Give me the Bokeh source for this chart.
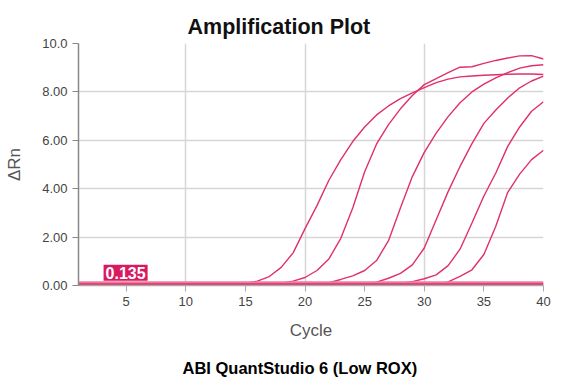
from bokeh.plotting import figure
from bokeh.models import FixedTicker, Label, Span, Title, Range1d
from bokeh.embed import file_html
from bokeh.resources import INLINE

# ---- data -------------------------------------------------------------
cycles = list(range(1, 41))

curve1 = [0.03, 0.03, 0.03, 0.03, 0.03, 0.03, 0.03, 0.03, 0.03, 0.03, 0.03, 0.03,
          0.04, 0.06, 0.10, 0.18, 0.37, 0.75, 1.35, 2.35, 3.30, 4.35, 5.20, 5.95,
          6.55, 7.05, 7.42, 7.72, 7.96, 8.18, 8.38, 8.53, 8.62, 8.66, 8.69, 8.71,
          8.73, 8.74, 8.74, 8.72]
curve2 = [0.03, 0.03, 0.03, 0.03, 0.03, 0.03, 0.03, 0.03, 0.03, 0.03, 0.03, 0.03,
          0.03, 0.03, 0.03, 0.03, 0.05, 0.10, 0.18, 0.33, 0.62, 1.10, 1.95, 3.20,
          4.70, 5.85, 6.65, 7.30, 7.85, 8.30, 8.55, 8.80, 9.02, 9.04, 9.18, 9.30,
          9.40, 9.49, 9.50, 9.36]
curve3 = [0.03, 0.03, 0.03, 0.03, 0.03, 0.03, 0.03, 0.03, 0.03, 0.03, 0.03, 0.03,
          0.03, 0.03, 0.03, 0.03, 0.03, 0.03, 0.03, 0.03, 0.06, 0.12, 0.25, 0.40,
          0.62, 1.03, 1.85, 3.20, 4.50, 5.50, 6.30, 6.98, 7.55, 8.00, 8.32, 8.58,
          8.80, 8.98, 9.08, 9.12]
curve4 = [0.03, 0.03, 0.03, 0.03, 0.03, 0.03, 0.03, 0.03, 0.03, 0.03, 0.03, 0.03,
          0.03, 0.03, 0.03, 0.03, 0.03, 0.03, 0.03, 0.03, 0.03, 0.03, 0.03, 0.05,
          0.08, 0.14, 0.30, 0.50, 0.85, 1.55, 2.72, 3.88, 4.92, 5.86, 6.70, 7.25,
          7.75, 8.17, 8.45, 8.65]
curve5 = [0.03, 0.03, 0.03, 0.03, 0.03, 0.03, 0.03, 0.03, 0.03, 0.03, 0.03, 0.03,
          0.03, 0.03, 0.03, 0.03, 0.03, 0.03, 0.03, 0.03, 0.03, 0.03, 0.03, 0.03,
          0.03, 0.03, 0.05, 0.10, 0.16, 0.28, 0.44, 0.82, 1.50, 2.58, 3.70, 4.65,
          5.75, 6.55, 7.20, 7.59]
curve6 = [0.02, 0.02, 0.02, 0.02, 0.02, 0.02, 0.02, 0.02, 0.02, 0.02, 0.02, 0.02,
          0.02, 0.02, 0.02, 0.02, 0.02, 0.02, 0.02, 0.02, 0.02, 0.02, 0.02, 0.02,
          0.02, 0.02, 0.02, 0.02, 0.02, 0.02, 0.04, 0.15, 0.38, 0.65, 1.28, 2.45,
          3.85, 4.60, 5.20, 5.59]
ntc1 = [0.05, 0.05, 0.05, 0.05, 0.05, 0.05, 0.05, 0.05, 0.05, 0.05, 0.05, 0.05,
        0.05, 0.05, 0.05, 0.05, 0.05, 0.05, 0.05, 0.05, 0.05, 0.05, 0.05, 0.05,
        0.05, 0.05, 0.05, 0.05, 0.05, 0.05, 0.05, 0.05, 0.05, 0.05, 0.05, 0.05,
        0.05, 0.05, 0.05, 0.05]
ntc2 = [0.07, 0.07, 0.07, 0.07, 0.07, 0.07, 0.07, 0.07, 0.07, 0.07, 0.07, 0.07,
        0.07, 0.07, 0.07, 0.07, 0.07, 0.07, 0.07, 0.07, 0.07, 0.07, 0.07, 0.07,
        0.07, 0.07, 0.07, 0.07, 0.07, 0.07, 0.07, 0.07, 0.07, 0.07, 0.07, 0.07,
        0.07, 0.07, 0.07, 0.07]
curves = [curve1, curve2, curve3, curve4, curve5, curve6, ntc1, ntc2]

threshold = 0.135

x_ticks = [5, 10, 15, 20, 25, 30, 35, 40]
x_grid = [10, 20, 30, 40]
y_ticks = [0, 2, 4, 6, 8, 10]
y_tick_labels = ["0.00", "2.00", "4.00", "6.00", "8.00", "10.0"]

title_text = "Amplification Plot"
caption_text = "ABI QuantStudio 6  (Low ROX)"
x_label = "Cycle"
y_label = "\u0394Rn"

# ---- figure -----------------------------------------------------------
FONT = "Liberation Sans"
LINE = "#e0306a"

p = figure(frame_width=465, frame_height=242,
           x_range=Range1d(1, 40), y_range=Range1d(0, 10),
           output_backend="svg", toolbar_location=None,
           min_border_left=78, min_border_right=19,
           min_border_top=43, min_border_bottom=100)

p.title.text = title_text
p.title.text_font = FONT
p.title.text_font_size = "21.5px"
p.title.text_font_style = "bold"
p.title.text_color = "#111111"
p.title.align = "left"
p.title.offset = 109
p.title.standoff = 10

p.outline_line_color = None
p.background_fill_color = "white"
p.border_fill_color = "white"

for c in curves:
    p.line(cycles, c, line_color=LINE, line_width=1.4)

p.add_layout(Span(location=threshold, dimension="width",
                  line_color="#ec7ba1", line_width=2))

p.add_layout(Label(x=4.95, y=0.2, text=str(threshold), text_align="center",
                   text_baseline="bottom", text_color="white",
                   text_font=FONT, text_font_style="bold", text_font_size="16px",
                   background_fill_color="#d81b60", padding=2))

# axes
p.xaxis.ticker = FixedTicker(ticks=x_ticks)
p.yaxis.ticker = FixedTicker(ticks=y_ticks)
p.yaxis.major_label_overrides = {t: s for t, s in zip(y_ticks, y_tick_labels)}
p.xgrid.ticker = FixedTicker(ticks=x_grid)
p.ygrid.ticker = FixedTicker(ticks=y_ticks)
p.xgrid.grid_line_color = "#d6d6d6"
p.ygrid.grid_line_color = "#d6d6d6"
p.xgrid.grid_line_width = 1.5
p.ygrid.grid_line_width = 1.5

for ax in (p.xaxis, p.yaxis):
    ax.minor_tick_line_color = None
    ax.major_tick_in = 0
    ax.major_tick_out = 6
    ax.major_label_standoff = 5
    ax.major_label_text_font = FONT
    ax.major_label_text_font_size = "13px"
    ax.major_label_text_color = "#444444"
    ax.axis_label_text_font = FONT
    ax.axis_label_text_font_size = "17px"
    ax.axis_label_text_font_style = "normal"
    ax.axis_label_text_color = "#555555"

p.xaxis.axis_line_color = "#aaaaaa"
p.xaxis.major_tick_line_color = "#aaaaaa"
p.yaxis.axis_line_color = "#888888"
p.yaxis.major_tick_line_color = "#888888"
p.xaxis.axis_line_width = 1.5
p.yaxis.axis_line_width = 1.5

p.xaxis.axis_label = x_label
p.yaxis.axis_label = y_label
p.xaxis.axis_label_standoff = 12
p.yaxis.axis_label_standoff = 15

cap = Title(text=caption_text, text_font=FONT, text_font_size="16.5px",
            text_font_style="bold", text_color="#000000",
            align="left", offset=104, standoff=29)
p.add_layout(cap, "below")

open("out.html", "w").write(file_html(p, INLINE))
